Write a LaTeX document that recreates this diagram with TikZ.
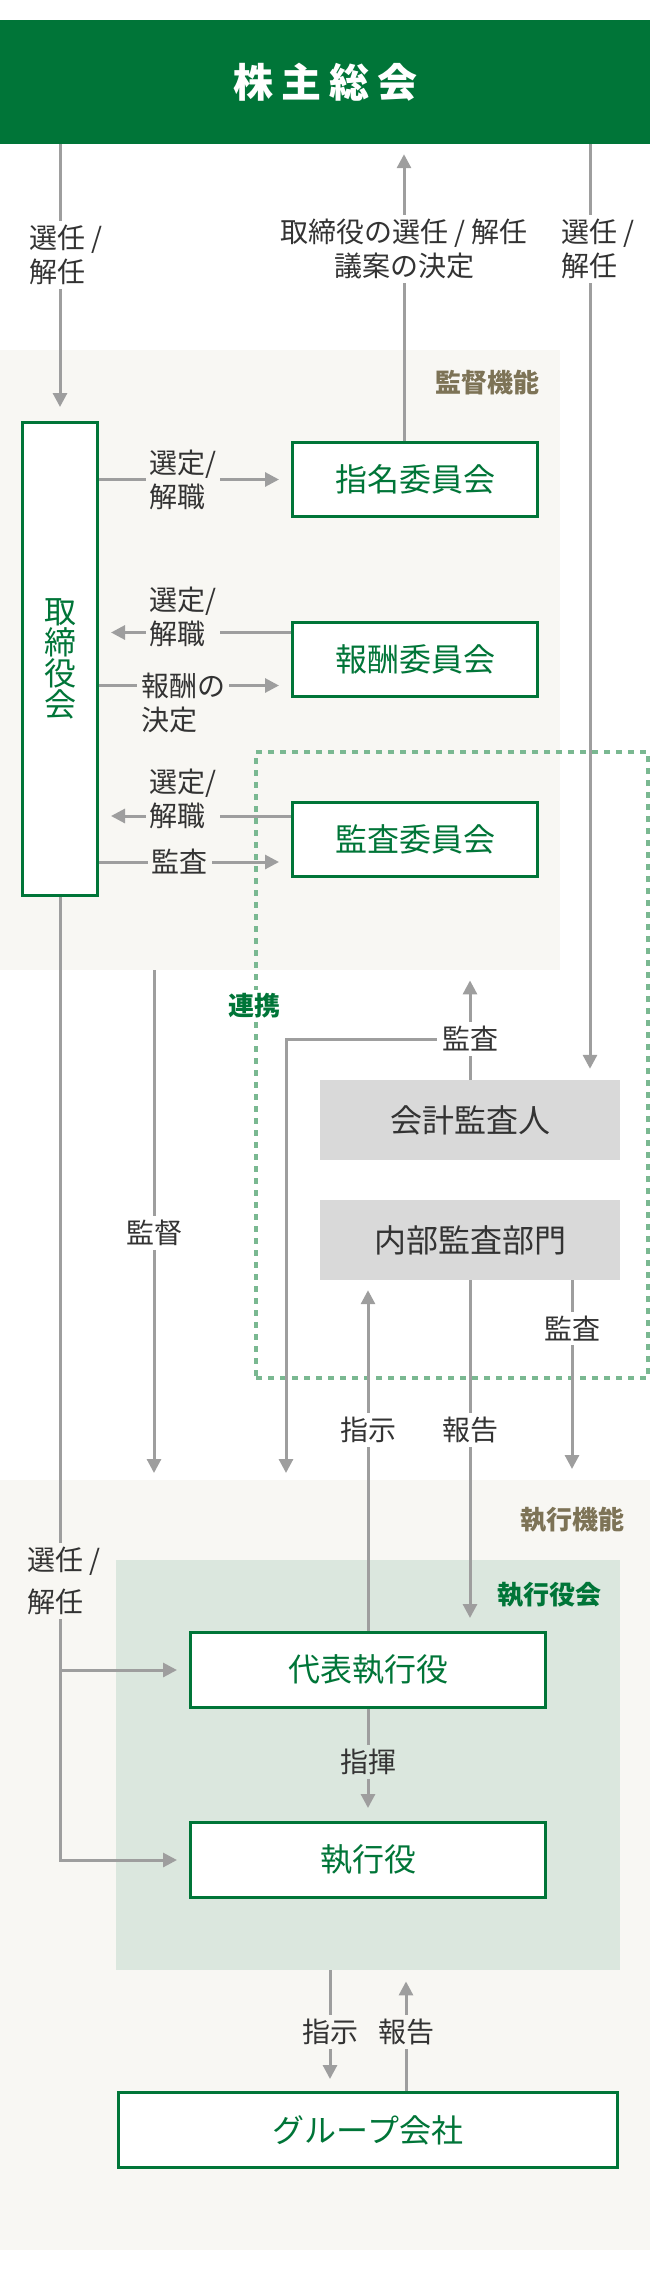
\documentclass[tikz,border=0pt]{standalone}
\usepackage{fontspec}
\setmainfont{Noto Sans CJK JP}
\usetikzlibrary{arrows.meta,calc}
\definecolor{gvgreen}{RGB}{0,117,56}
\definecolor{gvbeige}{RGB}{248,247,243}
\definecolor{gvmint}{RGB}{219,231,222}
\definecolor{gvgray}{RGB}{217,217,217}
\definecolor{gvline}{RGB}{158,158,158}
\definecolor{gvdash}{RGB}{122,184,145}
\definecolor{gvbrown}{RGB}{125,115,86}
\definecolor{gvtext}{RGB}{51,51,51}
\newcommand\boxfont{\fontsize{32pt}{31pt}\selectfont}
\newcommand\lblfont{\fontsize{28pt}{34pt}\selectfont}
\newcommand\headfont{\bfseries\fontsize{26pt}{30pt}\selectfont}
\tikzset{
  box/.style={draw=gvgreen, line width=3pt, fill=white, text=gvgreen, font=\boxfont, inner sep=0pt},
  graybox/.style={fill=gvgray, text=gvtext, font=\boxfont, inner sep=0pt, minimum width=300pt, minimum height=80pt},
  region/.style={fill=#1, inner sep=0pt, anchor=north west},
  arr/.style={draw=gvline, line width=3pt, -{Triangle[length=14pt,width=14pt]}},
  lbl/.style={font=\lblfont, text=gvtext, fill=#1, inner sep=4pt, align=left},
  lbl/.default=white,
  head/.style={font=\headfont, text=#1, inner sep=0pt},
}

\begin{document}
\begin{tikzpicture}[x=1pt, y=1pt]
  \useasboundingbox (0,0) rectangle (650,-2272);
  % background areas
  \node[region=gvbeige, minimum width=560pt, minimum height=620pt] (sup) at (0,-350) {};
  \node[region=gvbeige, minimum width=650pt, minimum height=770pt] (exe) at (0,-1480) {};
  \node[region=gvmint, minimum width=504pt, minimum height=410pt] (council) at (116,-1560) {};
  \node[draw=gvdash, dash pattern=on 6pt off 6pt, line width=4pt, inner sep=0pt, anchor=north west,
        minimum width=392pt, minimum height=626pt] (coop) at (254,-750) {};

  % shareholders
  \node[fill=gvgreen, text=white, font=\bfseries\fontsize{40pt}{40pt}\selectfont, inner sep=0pt,
        minimum width=650pt, minimum height=124pt] (agm) at (325,-82) {株\hspace{8pt}主\hspace{8pt}総\hspace{8pt}会};

  % boxes
  \node[box, minimum width=75pt, minimum height=473pt, align=center] (board) at (60,-659) {取\\締\\役\\会};
  \node[box, minimum width=245pt, minimum height=74pt] (nom) at (415,-479.5) {指名委員会};
  \node[box, minimum width=245pt, minimum height=74pt] (comp) at (415,-659.5) {報酬委員会};
  \node[box, minimum width=245pt, minimum height=74pt] (audit) at (415,-839.5) {監査委員会};
  \node[graybox] (auditor) at (470,-1120) {会計監査人};
  \node[graybox] (internal) at (470,-1240) {内部監査部門};
  \node[box, minimum width=355pt, minimum height=75pt] (ceo) at (368,-1670) {代表執行役};
  \node[box, minimum width=355pt, minimum height=75pt] (officers) at (368,-1860) {執行役};
  \node[box, minimum width=499pt, minimum height=75pt] (group) at (368,-2130) {グループ会社};

  % from the shareholders
  \draw[arr, shorten >=14pt] (agm.south -| board.north) -- node[lbl, pos=0.4, xshift=6pt] {選任 /\\解任} (board.north);
  \draw[arr, shorten >=10pt] ([xshift=-11pt]nom.north) -- node[lbl, pos=0.646, align=center] {取締役の選任 / 解任\\議案の決定} ([xshift=-11pt]nom.north |- agm.south);
  \draw[arr, shorten >=11pt] ([xshift=120pt]auditor.north |- agm.south) -- node[lbl, pos=0.112, xshift=8pt] {選任 /\\解任} ([xshift=120pt]auditor.north);

  % board and committees
  \draw[arr, shorten >=12pt] (board.east |- nom.west) -- node[lbl=gvbeige, pos=0.4375] {選定/\\解職} (nom.west);
  \draw[arr, shorten >=12pt] ([yshift=27pt]comp.west) -- node[lbl=gvbeige, pos=0.5625, yshift=16pt] {選定/\\解職} ([yshift=27pt]board.east |- comp.west);
  \draw[arr, shorten >=12pt] ([yshift=-26pt]board.east |- comp.west) -- node[lbl=gvbeige, pos=0.44, yshift=-17pt] {報酬の\\決定} ([yshift=-26pt]comp.west);
  \draw[arr, shorten >=12pt] ([yshift=23.5pt]audit.west) -- node[lbl=gvbeige, pos=0.5625, yshift=17pt] {選定/\\解職} ([yshift=23.5pt]board.east |- audit.west);
  \draw[arr, shorten >=12pt] ([yshift=-22.5pt]board.east |- audit.west) -- node[lbl=gvbeige, pos=0.42] {監査} ([yshift=-22.5pt]audit.west);

  % supervision and audit
  \draw[arr, shorten >=7pt] ([xshift=154pt]sup.south west) -- node[lbl, pos=0.515] {監督} ([xshift=154pt]exe.north west);
  \draw[arr, shorten >=10pt] (auditor.north) -- node[lbl, pos=0.373] (aulbl) {監査} (auditor.north |- sup.south);
  \draw[arr, shorten >=7pt] (aulbl.west) -| ([xshift=286pt]exe.north west);
  \draw[arr, shorten >=10pt] (ceo.north) -- node[lbl, pos=0.573] {指示} (ceo.north |- internal.south);
  \draw[arr, shorten >=13pt] (internal.south) -- node[lbl, pos=0.427] {報告} (internal.south |- ceo.north);
  \draw[arr, shorten >=11pt] ([xshift=102pt]internal.south) -- node[lbl, pos=0.24] {監査} ([xshift=102pt]internal.south |- exe.north);

  % execution
  \draw[arr, shorten >=12pt] (board.south) |- node[lbl=gvbeige, pos=0.355, xshift=4pt] {選任 /\\[8pt]解任} (officers.west);
  \draw[arr, shorten >=12pt] (board.south |- ceo.west) -- (ceo.west);
  \draw[arr, shorten >=13pt] (ceo.south) -- node[lbl=gvmint, pos=0.473] {指揮} (officers.north);
  \draw[arr, shorten >=12pt] ([xshift=-38pt]group.north |- council.south) -- node[lbl=gvbeige, pos=0.512] {指示} ([xshift=-38pt]group.north);
  \draw[arr, shorten >=11pt] ([xshift=38pt]group.north) -- node[lbl=gvbeige, pos=0.488] {報告} ([xshift=38pt]group.north |- council.south);

  % area titles
  \node[head=gvbrown, anchor=east] (suphead) at ([xshift=-21pt, yshift=-33pt]sup.north east) {監督機能};
  \node[head=gvbrown, anchor=east] (exehead) at ([xshift=-26pt, yshift=-40pt]exe.north east) {執行機能};
  \node[head=gvgreen, anchor=east] (counhead) at ([xshift=-19pt, yshift=-35pt]council.north east) {執行役会};
  \node[head=gvgreen, fill=white, inner sep=4pt] (coophead) at ([yshift=-256pt]coop.north west) {連携};
\end{tikzpicture}
\end{document}
